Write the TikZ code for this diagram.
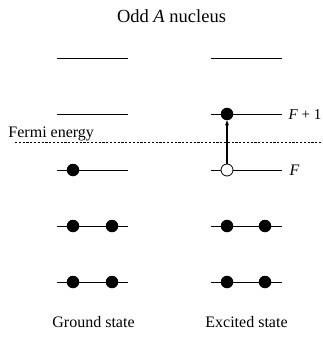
\documentclass[tikz,border=0pt]{standalone}
\usepackage{fontspec}
\setmainfont{Liberation Serif}
\usetikzlibrary{arrows.meta}
\begin{document}
\begin{tikzpicture}[x=1pt,y=-1pt,
  level/.style={line width=0.9pt},
  full/.style={circle,fill=black,inner sep=0pt,minimum size=12.5pt},
  hole/.style={circle,draw=black,fill=white,line width=0.8pt,inner sep=0pt,minimum size=12pt},
  lbl/.style={font=\fontsize{16}{19}\selectfont,inner sep=0pt,anchor=base},
  side/.style={font=\fontsize{16}{19}\selectfont,inner sep=0pt,anchor=base west}]
\useasboundingbox (0,0) rectangle (323,337);
% title
\node[lbl,font=\fontsize{18.5}{22}\selectfont] (title) at (171.5,22.3) {Odd \textit{A} nucleus};
% ground state levels
\coordinate (gl1a) at (57,58);  \coordinate (gl1b) at (128,58);
\coordinate (gl2a) at (57,114); \coordinate (gl2b) at (128,114);
\coordinate (gl3a) at (57,170); \coordinate (gl3b) at (128,170);
\coordinate (gl4a) at (57,226); \coordinate (gl4b) at (128,226);
\coordinate (gl5a) at (57,282); \coordinate (gl5b) at (128,282);
\foreach \i in {1,...,5} {\draw[level] (gl\i a) -- (gl\i b);}
% excited state levels
\coordinate (el1a) at (211,58);  \coordinate (el1b) at (282,58);
\coordinate (el2a) at (211,114); \coordinate (el2b) at (282,114);
\coordinate (el3a) at (211,170); \coordinate (el3b) at (282,170);
\coordinate (el4a) at (211,226); \coordinate (el4b) at (282,226);
\coordinate (el5a) at (211,282); \coordinate (el5b) at (282,282);
\foreach \i in {1,...,5} {\draw[level] (el\i a) -- (el\i b);}
% Fermi energy
\coordinate (fa) at (15,142); \coordinate (fb) at (322,142);
\draw[line width=0.6pt,dash pattern=on 2.2pt off 1.6pt] (fa) -- (fb);
\node[side] (fermi) at (8.3,137.3) {Fermi energy};
% ground state particles
\node[full] (g3) at (73,170) {};
\node[full] (g4a) at (73,226) {};
\node[full] (g4b) at (112,226) {};
\node[full] (g5a) at (73,282) {};
\node[full] (g5b) at (112,282) {};
% excited state particles
\node[full] (e2) at (227,114) {};
\node[hole] (e3) at (227,170) {};
\node[full] (e4a) at (227,226) {};
\node[full] (e4b) at (265,226) {};
\node[full] (e5a) at (227,282) {};
\node[full] (e5b) at (265,282) {};
\draw[line width=1.1pt,-{Stealth[length=5pt,width=4pt]}] (e3) -- (e2);
% labels
\node[side,font=\fontsize{15}{18}\selectfont] (fp1) at (288.5,119) {\textit{F} + 1};
\node[side] (f) at (289.5,175.7) {\textit{F}};
\node[lbl] (gs) at (93.5,327) {Ground state};
\node[lbl] (es) at (246.5,327) {Excited state};
\end{tikzpicture}
\end{document}
